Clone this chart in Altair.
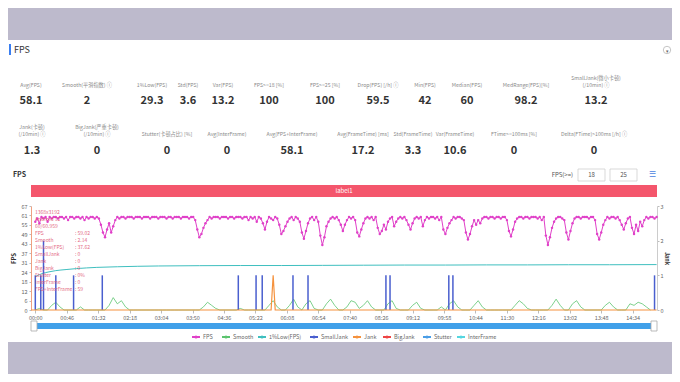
import altair as alt
import pandas as pd

FONT = "Noto Sans CJK SC"
W, H = 664, 366
M = 8  # page margin: chart coords = screen coords - M

# ------------------------------------------------------------------ data
section_title = "FPS"
chart_title = "FPS"
row1_labels = ["Avg(FPS)", "Smooth(平滑指数) ⓘ", "1%Low(FPS)", "Std(FPS)", "Var(FPS)",
               "FPS>=18 [%]", "FPS>=25 [%]", "Drop(FPS) [/h] ⓘ", "Min(FPS)", "Median(FPS)",
               "MedRange(FPS)[%]", "SmallJank(微小卡顿)\n(/10min) ⓘ"]
row1_values = [58.1, 2, 29.3, 3.6, 13.2, 100, 100, 59.5, 42, 60, 98.2, 13.2]
row2_labels = ["Jank(卡顿)\n(/10min) ⓘ", "BigJank(严重卡顿)\n(/10min) ⓘ", "Stutter(卡顿占比) [%]",
               "Avg(InterFrame)", "Avg(FPS+InterFrame)", "Avg(FrameTime) [ms]", "Std(FrameTime)",
               "Var(FrameTime)", "FTime>=100ms [%]", "Delta(FTime)>100ms [/h] ⓘ"]
row2_values = [1.3, 0, 0, 0, 58.1, 17.2, 3.3, 10.6, 0, 0]

series_names = ["FPS", "Smooth", "1%Low(FPS)", "SmallJank", "Jank", "BigJank", "Stutter", "InterFrame"]
series_colors = ["#e040c8", "#5cc46e", "#3fbfbf", "#4a5fcf", "#f5923e", "#ee4444", "#4a9de6", "#55d6e0"]

fps_step = 3  # seconds between FPS samples
fps_values = [
    57, 59, 56, 60, 59, 60, 57, 60, 59, 60, 60, 59, 60, 60, 59, 60, 58, 60, 60, 59,
    60, 60, 59, 60, 58, 60, 59, 60, 60, 59, 60, 59, 55, 50, 47, 52, 56, 50, 54, 58,
    60, 59, 60, 60, 59, 60, 60, 60, 59, 60, 60, 60, 59, 60, 60, 60, 59, 60, 60, 60,
    59, 60, 60, 60, 59, 60, 60, 59, 60, 60, 60, 59, 60, 60, 60, 59, 60, 60, 58, 52,
    47, 49, 53, 56, 58, 60, 59, 60, 60, 60, 59, 60, 60, 60, 59, 60, 60, 59, 60, 60,
    60, 59, 60, 60, 58, 60, 59, 60, 57, 60, 59, 56, 52, 57, 60, 59, 58, 60, 59, 55,
    49, 51, 54, 57, 59, 60, 58, 60, 59, 57, 50, 46, 51, 56, 59, 60, 58, 60, 57, 48,
    42, 47, 54, 57, 59, 60, 59, 60, 58, 55, 51, 55, 58, 60, 59, 60, 58, 50, 47.5, 52,
    56, 59, 60, 59, 60, 58, 60, 53, 49, 51, 55, 52, 57, 59, 60, 54, 57, 59, 60, 59,
    60, 58, 55, 52, 56, 59, 60, 59, 60, 54, 58, 60, 59, 60, 60, 59, 60, 58, 60, 52,
    49, 53, 56, 58, 60, 59, 60, 60, 59, 58, 50, 45.5, 49, 54, 58, 55, 58, 56, 59, 60,
    60, 59, 60, 60, 59, 60, 60, 59, 60, 60, 58, 51, 47.5, 52, 57, 59, 60, 60, 59, 60,
    60, 59, 60, 60, 60, 59, 60, 58, 60, 48, 42, 47, 53, 57, 59, 60, 60, 59, 58, 50,
    45.5, 51, 56, 59, 60, 60, 59, 60, 60, 60, 59, 60, 60, 58, 49, 45.5, 50, 55, 58, 60,
    59, 60, 60, 59, 60, 58, 55, 52, 56, 59, 60, 53, 49, 55, 51, 57, 54, 58, 60, 59,
    60, 60, 59, 60,
]
smooth_step = 6
smooth_values = [
    0, 1, 0, 0, 3, 5, 2, 0, 0, 0,
    0, 2, 0, 0, 0, 0, 0, 0, 3, 8,
    4, 6, 2, 0, 0, 0, 0, 0, 0, 0,
    0, 0, 0, 0, 0, 0, 0, 0, 0, 0,
    0, 2, 5, 3, 1, 0, 0, 0, 0, 0,
    1, 0, 0, 0, 0, 0, 0, 3, 6, 2,
    0, 0, 3, 7, 2, 0, 4, 6, 1, 0,
    0, 4, 7, 3, 0, 0, 2, 6, 5, 1,
    3, 6, 2, 0, 0, 0, 4, 6, 1, 0,
    0, 0, 3, 5, 1, 0, 0, 0, 0, 2,
    0, 4, 6, 2, 0, 0, 0, 3, 6, 2,
    0, 0, 0, 0, 0, 0, 0, 3, 6, 4,
    1, 0, 0, 0, 0, 0, 3, 7, 3, 0,
    0, 4, 6, 2, 0, 0, 0, 0, 0, 3,
    5, 2, 0, 0, 0, 4, 3, 5, 4, 2,
    0,
]
low1_times = [0, 10, 20, 30, 45, 60, 90, 120, 150, 180, 240, 300, 360, 420, 480, 540,
              600, 660, 720, 780, 840, 909]
low1_values = [21.5, 23.5, 24.6, 25.4, 26.1, 26.7, 27.5, 27.9, 28.2, 28.4, 28.6, 28.7,
               28.7, 28.8, 28.9, 29.0, 29.0, 29.1, 29.1, 29.2, 29.2, 29.3]
smalljank_times = [0, 8, 12, 30, 56, 98, 297, 323, 332, 377, 399, 513, 519, 605, 611, 906]
smalljank_values = [1, 1, 2, 1, 1, 1, 1, 1, 1, 1, 1, 1, 1, 1, 1, 1]
jank_times = [-6, 345, 348, 351, 909]
jank_values = [0, 0, 1, 0, 0]

x_tick_labels = ["00:00", "00:46", "01:32", "02:18", "03:04", "03:50", "04:36", "05:22",
                 "06:08", "06:54", "07:40", "08:26", "09:12", "09:58", "10:44", "11:30",
                 "12:16", "13:02", "13:48", "14:34"]
fps_axis_max = 67.1
fps_tick_count = 12
jank_ticks = [0, 1, 2, 3]

tooltip_header = ["1368x3192", "Android 12", "60/60.959"]
tooltip_keys = ["FPS", "Smooth", "1%Low(FPS)", "SmallJank", "Jank", "BigJank", "Stutter",
                "InterFrame", "FPS+InterFrame"]
tooltip_vals = ["59.02", "2.14", "37.62", "0", "0", "0", "0%", "0", "59"]

band_label = "label1"
threshold_caption = "FPS(>=)"
threshold_inputs = ["18", "25"]

# ------------------------------------------------------------------ layout helpers
PXS = alt.Scale(domain=[0, W], range=[0, W], nice=False, zero=False)
PYS = alt.Scale(domain=[0, H], range=[0, H], nice=False, zero=False)


def pix_text(rows, **mark):
    df = pd.DataFrame(rows, columns=["x", "y", "text"])
    df["x"] = df["x"] - M
    df["y"] = df["y"] - M
    opts = dict(font=FONT)
    opts.update(mark)
    return alt.Chart(df).mark_text(**opts).encode(
        x=alt.X("x:Q", scale=PXS, axis=None),
        y=alt.Y("y:Q", scale=PYS, axis=None),
        text="text:N",
    )


def pix_rect(rows, **mark):
    df = pd.DataFrame(rows, columns=["x", "x2", "y", "y2"]) - M
    return alt.Chart(df).mark_rect(**mark).encode(
        x=alt.X("x:Q", scale=PXS, axis=None), x2="x2:Q",
        y=alt.Y("y:Q", scale=PYS, axis=None), y2="y2:Q",
    )


def fmt(v):
    return f"{v:g}"


def label_rows(xs, labels, y_last, step=7):
    rows = []
    for x, lab in zip(xs, labels):
        parts = lab.split("\n")
        n = len(parts)
        for i, p in enumerate(parts):
            rows.append((x, y_last - (n - 1 - i) * step, p))
    return rows


color_scale = alt.Scale(domain=series_names, range=series_colors)
color_enc = alt.Color("series:N", scale=color_scale, legend=None)

layers = []

# page bands
layers.append(pix_rect([(0, 680, 0, 40), (0, 680, 342, 382)], color="#bdbacc"))

# header
layers.append(pix_rect([(9, 11, 44, 55)], color="#3a7ef0"))
layers.append(pix_text([(14, 49.5, section_title)], align="left", baseline="middle",
                       fontSize=9, color="#333"))
layers.append(alt.Chart(pd.DataFrame({"x": [667 - M], "y": [50 - M]})).mark_point(
    shape="circle", size=55, color="#999", strokeWidth=0.8, filled=False).encode(
    x=alt.X("x:Q", scale=PXS, axis=None), y=alt.Y("y:Q", scale=PYS, axis=None)))
layers.append(pix_text([(667, 50.5, "▾")], fontSize=5, color="#666", baseline="middle"))

# stats grid
row1_x = [31, 87, 152, 188, 223, 269, 325, 378, 425, 467, 526, 596]
row2_x = [32, 97, 167, 227, 292, 363, 413, 455, 514, 594]
lab_rows = label_rows(row1_x, row1_labels, 85) + label_rows(row2_x, row2_labels, 134)
val_rows = [(x, 101, fmt(v)) for x, v in zip(row1_x, row1_values)] + \
           [(x, 151, fmt(v)) for x, v in zip(row2_x, row2_values)]
layers.append(pix_text(lab_rows, fontSize=5.2, color="#8a8a8a", baseline="middle"))
layers.append(pix_text(val_rows, fontSize=11, color="#333", fontWeight="bold",
                       baseline="middle"))

# chart header and threshold inputs
layers.append(pix_text([(13, 175, chart_title)], align="left", baseline="middle",
                       fontSize=7, color="#333", fontWeight="bold"))
layers.append(pix_text([(573, 175, threshold_caption)], align="right", baseline="middle",
                       fontSize=6, color="#555"))
layers.append(pix_rect([(578, 605, 169, 181), (610, 637, 169, 181)], fill="white",
                       stroke="#cfcfcf", strokeWidth=0.8))
layers.append(pix_text([(591.5, 175, threshold_inputs[0]), (623.5, 175, threshold_inputs[1])],
                       baseline="middle", fontSize=6, color="#555"))
layers.append(pix_text([(652, 175, "☰")], baseline="middle", fontSize=8, color="#4a7fe0"))

# red band
layers.append(pix_rect([(31, 657, 185, 197)], color="#f4566c"))
layers.append(pix_text([((31 + 657) / 2, 191, band_label)], baseline="middle",
                       fontSize=6, color="white"))

# ------------------------------------------------------------------ data layers
T = alt.Scale(domain=[-6.3, 909.6], range=[31 - M, 657 - M], nice=False, zero=False)
YL = alt.Scale(domain=[0, fps_axis_max], range=[310 - M, 206 - M], nice=False, zero=False)
YR = alt.Scale(domain=[0, 3], range=[310 - M, 206 - M], nice=False, zero=False)

tick_secs = [int(s[:2]) * 60 + int(s[3:]) for s in x_tick_labels]
x_axis = alt.Axis(orient="bottom", offset=(310 - M) - H, values=tick_secs,
                  labelExpr="(floor(datum.value/60) < 10 ? '0' : '') + floor(datum.value/60) + ':' + (datum.value % 60 < 10 ? '0' : '') + (datum.value % 60)",
                  grid=False, domain=False, ticks=True, tickSize=3, tickColor="#bbb",
                  labelFontSize=5.5, labelColor="#666", labelFont=FONT, labelPadding=2,
                  labelOverlap=False, labelFlush=False, title=None)
yl_axis = alt.Axis(orient="left", offset=-(31 - M),
                   values=[round(k * fps_axis_max / (fps_tick_count - 1), 2) for k in range(fps_tick_count)],
                   labelExpr="'' + round(datum.value)", grid=False, domain=True,
                   domainColor="#f0a080", ticks=True, tickSize=2, tickColor="#bbb",
                   labelFontSize=5.5, labelColor="#666", labelFont=FONT, labelPadding=2,
                   title="FPS", titleFontSize=6, titleColor="#333", titleFont=FONT,
                   titleFontWeight="bold", titlePadding=4)
yr_axis = alt.Axis(orient="right", offset=(657 - M) - W, values=jank_ticks, grid=False,
                   domain=True, domainColor="#cccccc", ticks=True, tickSize=2,
                   tickColor="#bbb", labelFontSize=5.5, labelColor="#666", labelFont=FONT,
                   labelPadding=1, title="Jank", titleFontSize=5.5, titleColor="#333",
                   titleFont=FONT, titlePadding=0)

smooth_df = pd.DataFrame({"t": [i * smooth_step for i in range(len(smooth_values))],
                          "v": smooth_values, "series": "Smooth"})
layers.append(alt.Chart(smooth_df).mark_line(strokeWidth=0.8).encode(
    x=alt.X("t:Q", scale=T, axis=None), y=alt.Y("v:Q", scale=YL, axis=None), color=color_enc))

low_df = pd.DataFrame({"t": low1_times, "v": low1_values, "series": "1%Low(FPS)"})
layers.append(alt.Chart(low_df).mark_line(strokeWidth=1, interpolate="monotone").encode(
    x=alt.X("t:Q", scale=T, axis=None), y=alt.Y("v:Q", scale=YL, axis=None), color=color_enc))

fps_df = pd.DataFrame({"t": [i * fps_step for i in range(len(fps_values))],
                       "v": fps_values, "series": "FPS"})
layers.append(alt.Chart(fps_df).mark_line(
    strokeWidth=1, point=alt.OverlayMarkDef(size=6, filled=True)).encode(
    x=alt.X("t:Q", scale=T, axis=x_axis), y=alt.Y("v:Q", scale=YL, axis=yl_axis),
    color=color_enc))

sj_df = pd.DataFrame({"t": smalljank_times, "v": smalljank_values, "zero": 0,
                      "series": "SmallJank"})
layers.append(alt.Chart(sj_df).mark_rule(strokeWidth=1.5).encode(
    x=alt.X("t:Q", scale=T, axis=None), y=alt.Y("v:Q", scale=YR, axis=yr_axis),
    y2="zero:Q", color=color_enc))

jank_df = pd.DataFrame({"t": jank_times, "v": jank_values, "series": "Jank"})
layers.append(alt.Chart(jank_df).mark_line(strokeWidth=1.2).encode(
    x=alt.X("t:Q", scale=T, axis=None), y=alt.Y("v:Q", scale=YR, axis=None), color=color_enc))

# tooltip overlay
tip_rows = [(35, 212 + 7 * i, s) for i, s in enumerate(tooltip_header)]
tip_rows += [(35, 233 + 7 * i, k) for i, k in enumerate(tooltip_keys)]
tip_rows += [(75, 233 + 7 * i, ": " + v) for i, v in enumerate(tooltip_vals)]
layers.append(pix_text(tip_rows, align="left", baseline="middle", fontSize=5,
                       color="#e0506e", opacity=0.85))

# slider
layers.append(pix_rect([(34, 654, 323, 329)], color="#41a0e9"))
layers.append(pix_rect([(31, 37, 321, 331), (651, 657, 321, 331)], fill="white",
                       stroke="#aaaaaa", strokeWidth=0.8))

# legend (drawn with the shared colour scale)
legend_x = [192, 222, 258, 310, 353, 383, 423, 457]
legend_y = 337
leg_df = pd.DataFrame({"series": series_names,
                       "x": [x - M for x in legend_x],
                       "x2": [x + 8 - M for x in legend_x],
                       "xc": [x + 4 - M for x in legend_x],
                       "xl": [x + 11 - M for x in legend_x],
                       "y": legend_y - M})
layers.append(alt.Chart(leg_df).mark_rule(strokeWidth=2).encode(
    x=alt.X("x:Q", scale=PXS, axis=None), x2="x2:Q",
    y=alt.Y("y:Q", scale=PYS, axis=None), color=color_enc))
layers.append(alt.Chart(leg_df).mark_point(filled=True, size=10, opacity=1).encode(
    x=alt.X("xc:Q", scale=PXS, axis=None),
    y=alt.Y("y:Q", scale=PYS, axis=None), color=color_enc))
layers.append(alt.Chart(leg_df).mark_text(align="left", baseline="middle", fontSize=5.5,
                                          color="#666", font=FONT).encode(
    x=alt.X("xl:Q", scale=PXS, axis=None),
    y=alt.Y("y:Q", scale=PYS, axis=None), text="series:N"))

chart = alt.layer(*layers).resolve_scale(
    x="independent", y="independent", color="shared"
).properties(
    width=W, height=H, padding=0, autosize=alt.AutoSizeParams(type="none")
).configure(background="white").configure_view(stroke=None)

chart.save("out.html", embed_options={"renderer": "svg", "actions": False})
